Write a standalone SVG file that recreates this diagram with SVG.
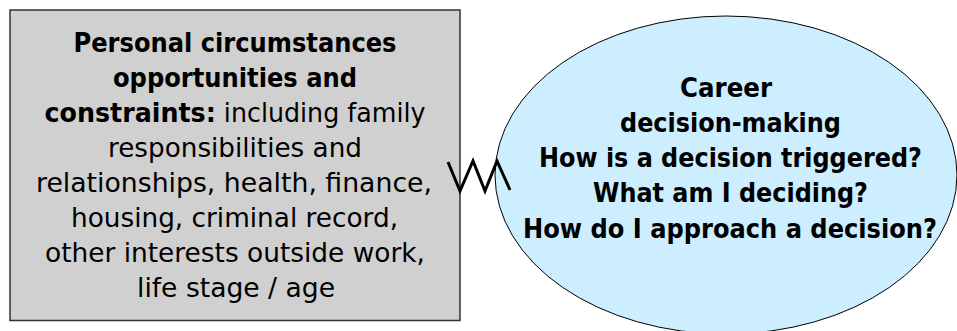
<svg xmlns="http://www.w3.org/2000/svg" width="957" height="331" viewBox="0 0 957 331">
<style>
.t{font-family:"DejaVu Sans","Liberation Sans",sans-serif;font-size:26.5px;fill:#000;text-anchor:middle}
.b{font-weight:bold}
</style>
<rect width="957" height="331" fill="#fff"/>
<g id="circumstances">
<rect x="10" y="10" width="450" height="310.5" fill="#d0d0d0" stroke="#333" stroke-width="1.5"/>
<text class="t b" x="235" y="52" textLength="323" lengthAdjust="spacingAndGlyphs">Personal circumstances</text>
<text class="t b" x="235" y="87" textLength="244" lengthAdjust="spacingAndGlyphs">opportunities and</text>
<text class="t" x="235" y="122" textLength="381" lengthAdjust="spacingAndGlyphs"><tspan class="b">constraints:</tspan> including family</text>
<text class="t" x="235" y="157" textLength="254" lengthAdjust="spacingAndGlyphs">responsibilities and</text>
<text class="t" x="234" y="192" textLength="396" lengthAdjust="spacingAndGlyphs">relationships, health, finance,</text>
<text class="t" x="234.5" y="227" textLength="327" lengthAdjust="spacingAndGlyphs">housing, criminal record,</text>
<text class="t" x="235" y="262" textLength="380" lengthAdjust="spacingAndGlyphs">other interests outside work,</text>
<text class="t" x="236" y="297" textLength="198" lengthAdjust="spacingAndGlyphs">life stage / age</text>
</g>
<g id="career">
<ellipse cx="726" cy="175" rx="231" ry="159" fill="#cceeff" stroke="#000" stroke-width="1"/>
<text class="t b" x="726" y="97" textLength="92" lengthAdjust="spacingAndGlyphs">Career</text>
<text class="t b" x="730.5" y="132" textLength="221" lengthAdjust="spacingAndGlyphs">decision-making</text>
<text class="t b" x="730.5" y="167" textLength="383" lengthAdjust="spacingAndGlyphs">How is a decision triggered?</text>
<text class="t b" x="730.5" y="202" textLength="275" lengthAdjust="spacingAndGlyphs">What am I deciding?</text>
<text class="t b" x="730" y="238" textLength="414" lengthAdjust="spacingAndGlyphs">How do I approach a decision?</text>
</g>
<g id="connectors">
<polyline points="448,162 460,191 473,161 485,191 497,161 510,190" fill="none" stroke="#000" stroke-width="3" stroke-linejoin="miter"/>
</g>
</svg>
